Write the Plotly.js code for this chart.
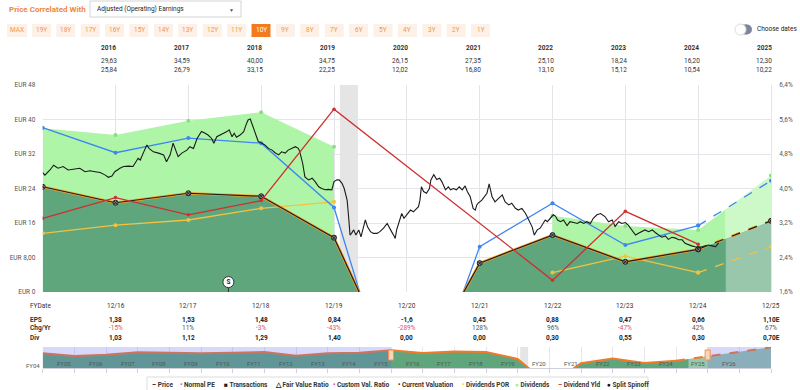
<!DOCTYPE html>
<html><head><meta charset="utf-8">
<script src="https://cdn.plot.ly/plotly-3.0.1.min.js"></script>
<style>html,body{margin:0;padding:0;background:#fff;} #chart{width:800px;height:390px;}</style>
</head><body><div id="chart"></div>
<script>
// ---------------- DATA ----------------
// fiscal year ends 12/15 .. 12/25 expressed as decimal calendar years
const fyEnd = [2016,2017,2018,2019,2020,2021,2022,2023,2024,2025,2026];
const fyLabels = ['12/16','12/17','12/18','12/19','12/20','12/21','12/22','12/23','12/24','12/25'];
const epsText = ['1,38','1,53','1,48','0,84','-1,6','0,45','0,88','0,47','0,66','1,10E'];
const chgText = ['-15%','11%','-3%','-43%','-289%','128%','96%','-47%','42%','67%'];
const divText = ['1,03','1,12','1,29','1,40','0,00','0,00','0,30','0,55','0,30','0,70E'];
const hdrYears = ['2016','2017','2018','2019','2020','2021','2022','2023','2024','2025'];
const hdrHigh = ['29,63','34,59','40,00','34,75','26,15','27,35','25,10','18,24','16,20','12,30'];
const hdrLow  = ['25,84','26,79','33,15','22,25','12,02','16,80','13,10','15,12','10,54','10,22'];

const earningsVal = [24.4,20.7,22.9,22.2,12.6,-24.0,6.7,13.2,7.0,9.9,16.5];
const normalPE    = [38.1,32.3,35.7,34.5,19.6,-36.0,10.5,20.6,10.9,15.4,25.8];
const divTopA     = [38.0,36.4,39.7,41.7,33.7];          // 12/15..12/19
const divTopB     = [17.7,15.3,14.4,27.0];               // 12/22..12/25
const divPOR      = [13.6,15.5,16.7,19.4,20.9,null,null,4.5,8.3,4.5,10.5];
const divYield    = [3.31,3.79,3.39,3.72,5.84,null,null,1.87,3.47,2.71,null];
const recession   = [2020.08,2020.33];
const splitDates  = [2018.55];
const todayX      = 2025.37;

const priceX = [
2016.00,2016.03,2016.10,2016.15,2016.21,2016.28,2016.35,2016.42,2016.51,2016.58,2016.65,2016.72,2016.79,2016.86,2016.90,2016.95,2016.99,
2017.06,2017.11,2017.18,2017.24,2017.31,2017.34,2017.38,2017.43,2017.46,2017.52,2017.59,2017.66,2017.70,2017.75,2017.79,2017.82,2017.86,2017.91,2017.98,
2018.02,2018.07,2018.12,2018.18,2018.23,2018.27,2018.32,2018.35,2018.39,2018.44,2018.48,2018.53,2018.56,2018.60,2018.63,2018.66,2018.71,2018.76,2018.79,2018.82,2018.85,2018.87,2018.92,2018.96,
2019.01,2019.05,2019.10,2019.15,2019.19,2019.24,2019.28,2019.33,2019.37,2019.42,2019.47,2019.51,2019.53,2019.57,2019.60,2019.65,2019.70,2019.74,2019.79,2019.83,2019.88,2019.92,2019.97,
2020.00,2020.04,2020.07,2020.11,2020.14,2020.18,2020.20,2020.22,2020.24,2020.27,2020.30,2020.34,2020.37,2020.40,2020.43,2020.46,2020.50,2020.54,2020.59,2020.63,2020.68,2020.73,2020.76,2020.79,2020.83,2020.84,2020.86,2020.91,2020.93,2020.96,
2021.00,2021.05,2021.09,2021.13,2021.16,2021.18,2021.20,2021.23,2021.27,2021.31,2021.33,2021.37,2021.41,2021.45,2021.48,2021.53,2021.57,2021.60,2021.64,2021.68,2021.72,2021.76,2021.80,2021.83,2021.87,2021.91,2021.94,2021.96,2021.98,
2022.03,2022.07,2022.10,2022.13,2022.17,2022.21,2022.26,2022.31,2022.35,2022.40,2022.44,2022.49,2022.53,2022.58,2022.63,2022.67,2022.72,2022.75,2022.79,2022.83,2022.87,2022.90,2022.93,2022.97,
2023.01,2023.04,2023.07,2023.11,2023.15,2023.20,2023.24,2023.29,2023.34,2023.38,2023.43,2023.47,2023.52,2023.56,2023.61,2023.66,2023.69,2023.72,2023.77,2023.82,2023.86,2023.91,2023.95,
2024.00,2024.04,2024.09,2024.14,2024.18,2024.23,2024.27,2024.32,2024.37,2024.41,2024.46,2024.50,2024.55,2024.59,2024.64,2024.69,2024.73,2024.78,2024.82,2024.87,2024.91,2024.96,
2025.01,2025.05,2025.10,2025.14,2025.19,2025.24,2025.28];
const priceY = [
27.7,27.1,28.3,29.4,28.7,29.1,28.3,28.4,28.7,27.9,28.1,27.9,27.7,27.1,26.6,26.9,27.9,
28.7,29.1,29.2,29.1,31.0,30.6,32.2,34.1,33.3,32.5,32.2,31.8,30.2,31.8,34.5,33.3,31.4,32.2,32.9,
33.7,33.3,35.6,37.2,36.8,36.4,35.6,34.5,36.0,36.4,36.8,37.2,37.6,36.0,36.8,35.9,36.4,37.2,38.7,39.9,40.1,39.1,36.8,34.9,
34.5,34.1,33.3,32.9,32.3,31.8,32.5,32.2,32.9,33.3,33.7,33.3,32.5,29.8,26.7,26.0,26.4,25.6,24.4,24.0,23.7,23.8,23.7,
25.6,26.0,26.0,25.2,24.0,21.3,17.5,13.2,13.6,14.4,13.2,14.4,12.8,15.1,16.7,15.1,14.0,13.6,13.6,14.0,14.8,15.9,15.1,14.0,12.8,12.4,14.4,17.5,18.2,17.1,
17.9,19.0,18.6,19.4,19.8,21.3,24.4,23.3,22.9,24.0,26.0,27.2,26.1,26.4,25.6,23.7,24.4,23.7,24.0,23.7,24.4,23.7,24.6,23.3,22.1,19.4,19.0,20.2,20.6,
21.3,22.1,22.9,25.1,22.1,20.9,21.7,22.5,20.9,20.2,20.6,19.4,19.0,19.4,18.2,16.7,15.1,13.2,14.4,14.8,15.9,16.7,16.3,17.1,
17.9,17.6,16.7,16.3,16.7,15.4,16.3,16.1,15.9,16.3,15.9,16.3,15.9,17.1,17.9,18.2,17.9,17.5,16.3,16.7,15.2,16.3,15.9,
16.1,15.5,14.4,13.2,13.6,14.0,14.4,14.0,14.4,13.8,13.2,12.7,13.0,12.2,12.7,12.5,12.1,12.1,11.3,10.9,10.7,10.5,
10.4,10.5,10.7,10.9,10.7,10.5,11.4];

// navigator (long history, same earnings series)
const navHistX = [2005,2006,2007,2008,2009,2010,2011,2012,2013,2014,2015];
const navHistY = [20.3,16.6,18.4,21.7,21.1,20.3,21.1,22.1,17.0,20.3,21.1];
const navProjX = [2027,2028];
const navProjY = [22.3,28.6];
const navLabels = ['FY04','FY05','FY06','FY07','FY08','FY09','FY10','FY11','FY12','FY13','FY14','FY15','FY16','FY17','FY18','FY19','FY20','FY21','FY22','FY23','FY24','FY25','FY26'];

const rangeButtons = ['MAX','19Y','18Y','17Y','16Y','15Y','14Y','13Y','12Y','11Y','10Y','9Y','8Y','7Y','6Y','5Y','4Y','3Y','2Y','1Y'];
const activeRange = '10Y';

const legendItems = [
  {t:'Price', s:'–', c:'#222'},
  {t:'Normal PE', s:'•', c:'#3f86f2'},
  {t:'Transactions', s:'■', c:'#222'},
  {t:'Fair Value Ratio', s:'△', c:'#222'},
  {t:'Custom Val. Ratio', s:'•', c:'#e21de2'},
  {t:'Current Valuation', s:'•', c:'#222'},
  {t:'Dividends POR', s:'•', c:'#f3c743'},
  {t:'Dividends', s:'●', c:'#a4f09c'},
  {t:'Dividend Yld', s:'–', c:'#d13434'},
  {t:'Split Spinoff', s:'●', c:'#111'}
];

// ---------------- STYLE / LAYOUT HELPERS ----------------
const W = 800, H = 390;
const PX = p => p / W, PY = p => 1 - p / H;
const DG = '#5fa67d', DGp = '#98c7ab', LG = '#aef5a7', LGp = '#cdf8c8';
const FONT = 'Roboto, "Open Sans", sans-serif';
const plotL = 42.7, plotR = 771;

function split(arr, i) { return [arr.slice(0, i + 1), arr.slice(i)]; }
const iLast = fyEnd.length - 2; // index of 12/24
const gFrac = (todayX - fyEnd[0]) / (fyEnd[fyEnd.length-1] - fyEnd[0]);
const gradMain = {type:'horizontal', start:fyEnd[0], stop:fyEnd[fyEnd.length-1],
  colorscale:[[0,DG],[gFrac,DG],[gFrac+0.002,DGp],[1,DGp]]};
const bStart = fyEnd[7], bStop = fyEnd[10];
const bFrac = (todayX - bStart) / (bStop - bStart);
const gradLG = {type:'horizontal', start:bStart, stop:bStop,
  colorscale:[[0,LG],[bFrac,LG],[bFrac+0.002,LGp],[1,LGp]]};

const cvMarker = {symbol:'circle-x', size:5, color:'#8a8a8a', line:{color:'#222', width:1}};
const traces = [];
// dark green earnings area
traces.push({x:fyEnd, y:earningsVal, mode:'lines', line:{width:0, color:DG}, fill:'tozeroy', fillgradient:gradMain});
// light green dividends area A
traces.push({x:fyEnd.slice(0,5), y:earningsVal.slice(0,5), mode:'lines', line:{width:0}});
traces.push({x:fyEnd.slice(0,5), y:divTopA, mode:'lines+markers', line:{width:0, color:LG}, marker:{size:4, color:'#86e27e'}, fill:'tonexty', fillcolor:LG});
// light green dividends area B
traces.push({x:fyEnd.slice(7), y:earningsVal.slice(7), mode:'lines', line:{width:0}});
traces.push({x:fyEnd.slice(7), y:divTopB, mode:'lines+markers', line:{width:0, color:LG}, marker:{size:4, color:'#86e27e'}, fill:'tonexty', fillgradient:gradLG, fillcolor:LG});

// dividends POR (yellow)
const [porS, porD] = split(divPOR, iLast), [fxS, fxD] = split(fyEnd, iLast);
traces.push({x:fxS, y:porS, mode:'lines+markers', line:{color:'#f2c240', width:1.3}, marker:{size:4, color:'#f2c240'}});
traces.push({x:fxD, y:porD, mode:'lines+markers', line:{color:'#f2c240', width:1.3, dash:'dash'}, marker:{size:4, color:'#f2c240'}});
// normal PE (blue)
const [npS, npD] = split(normalPE, iLast);
traces.push({x:fxS, y:npS, mode:'lines+markers', line:{color:'#3f86f2', width:1.3}, marker:{size:4, color:'#3f86f2'}});
traces.push({x:fxD, y:npD, mode:'lines+markers', line:{color:'#3f86f2', width:1.3, dash:'dash'}, marker:{size:4, color:'#3f86f2'}});
// dividend yield (red, right axis)
traces.push({x:fyEnd, y:divYield, yaxis:'y2', mode:'lines+markers', connectgaps:true, line:{color:'#cf2f2f', width:1.3}, marker:{size:3.5, color:'#cf2f2f'}});
// earnings justified (orange) + current valuation (black)
const [evS, evD] = split(earningsVal, iLast);
traces.push({x:fxS, y:evS, mode:'lines', line:{color:'#f5a02c', width:2.6}});
traces.push({x:fxD, y:evD, mode:'lines', line:{color:'#f5a02c', width:2.6, dash:'dash'}});
traces.push({x:fxS, y:evS, mode:'lines+markers', line:{color:'#1e1e1e', width:1.2}, marker:cvMarker});
traces.push({x:fxD, y:evD, mode:'lines+markers', line:{color:'#1e1e1e', width:1.2, dash:'dash'}, marker:cvMarker});
// price
traces.push({x:priceX, y:priceY, mode:'lines', line:{color:'#1a1a1a', width:1.1}});
// split / spinoff marker
traces.push({x:[splitDates[0], splitDates[0]], y:[0, 1.05], mode:'lines', line:{color:'#333', width:1}});
traces.push({x:splitDates, y:[2.3], mode:'markers+text', text:['S'], textposition:'middle center', textfont:{size:6.5, color:'#222', family:FONT, weight:'bold'}, marker:{size:11, color:'#fff', line:{color:'#333', width:1}}});

// navigator
const navX = navHistX.concat(fyEnd, navProjX);
const navY = navHistY.concat(earningsVal, navProjY);
const nI = navX.indexOf(2025);
const nFrac = (todayX - navX[0]) / (navX[navX.length-1] - navX[0]);
traces.push({x:navX, y:navY, xaxis:'x2', yaxis:'y3', mode:'lines', line:{width:0}, fill:'tozeroy',
  fillgradient:{type:'horizontal', start:navX[0], stop:navX[navX.length-1], colorscale:[[0,DG],[nFrac,DG],[nFrac+0.002,DGp],[1,DGp]]}});
traces.push({x:navX.slice(0,nI+1), y:navY.slice(0,nI+1), xaxis:'x2', yaxis:'y3', mode:'lines', line:{color:'#f07a2a', width:2}});
traces.push({x:navX.slice(nI), y:navY.slice(nI), xaxis:'x2', yaxis:'y3', mode:'lines', line:{color:'#f07a2a', width:2, dash:'dash'}});

traces.forEach(t => { t.showlegend = false; t.hoverinfo = 'skip'; });

// ---------------- ANNOTATIONS & SHAPES ----------------
const ann = [], shapes = [];
function txt(x, y, text, o) {
  ann.push(Object.assign({xref:'paper', yref:'paper', x:x, y:y, text:text, showarrow:false,
    xanchor:'left', yanchor:'middle', font:{family:FONT, size:6.5, color:'#333'}}, o || {}));
}
// header
txt(PX(7), PY(9.5), 'Price Correlated With', {font:{family:FONT, size:8, color:'#f0873a', weight:'bold'}});
shapes.push({type:'rect', xref:'paper', yref:'paper', x0:PX(90), x1:PX(241), y0:PY(17), y1:PY(1), line:{color:'#d4d4d4', width:1}, fillcolor:'#fff'});
txt(PX(95), PY(9), 'Adjusted (Operating) Earnings', {font:{family:FONT, size:6.5, color:'#222'}});
txt(PX(232), PY(9.5), '▼', {xanchor:'center', font:{family:FONT, size:5, color:'#555'}});
rangeButtons.forEach((b, i) => {
  const c = 17 + 24.4 * i, hw = (b === 'MAX') ? 10 : 9.5;
  const on = b === activeRange;
  shapes.push({type:'rect', xref:'paper', yref:'paper', x0:PX(c-hw), x1:PX(c+hw), y0:PY(37), y1:PY(24), line:{width:0}, fillcolor: on ? '#f47a1f' : '#fdf1e7'});
  txt(PX(c), PY(30.5), b, {xanchor:'center', font:{family:FONT, size:6.5, color: on ? '#fff' : '#f39548'}});
});
// toggle
shapes.push({type:'rect', xref:'paper', yref:'paper', x0:PX(741), x1:PX(747), y0:PY(34.5), y1:PY(24.5), line:{width:0}, fillcolor:'#7e859f'});
shapes.push({type:'circle', xref:'paper', yref:'paper', x0:PX(742), x1:PX(752), y0:PY(34.5), y1:PY(24.5), line:{width:0}, fillcolor:'#7e859f'});
shapes.push({type:'circle', xref:'paper', yref:'paper', x0:PX(735), x1:PX(746), y0:PY(35), y1:PY(24), line:{color:'#dcdcdc', width:1}, fillcolor:'#fff'});
txt(PX(755), PY(29.5), 'Choose dates', {font:{family:FONT, size:6.5, color:'#222'}});
// yearly high/low table
hdrYears.forEach((y, i) => {
  const xx = fyEnd[i] + 0.91;
  ann.push({xref:'x', yref:'paper', x:xx, y:PY(48), text:'<b>'+y+'</b>', showarrow:false, xanchor:'center', yanchor:'middle', font:{family:FONT, size:6.5, color:'#333'}});
  ann.push({xref:'x', yref:'paper', x:xx, y:PY(61), text:hdrHigh[i], showarrow:false, xanchor:'center', yanchor:'middle', font:{family:FONT, size:6.5, color:'#333'}});
  ann.push({xref:'x', yref:'paper', x:xx, y:PY(70), text:hdrLow[i], showarrow:false, xanchor:'center', yanchor:'middle', font:{family:FONT, size:6.5, color:'#333'}});
});
// FY table
txt(PX(28), PY(306), 'FYDate', {font:{family:FONT, size:6.5, color:'#333'}});
txt(PX(28), PY(319.5), '<b>EPS</b>');
txt(PX(28), PY(328), '<b>Chg/Yr</b>');
txt(PX(28), PY(338), '<b>Div</b>');
fyLabels.forEach((l, i) => {
  const xx = fyEnd[i+1];
  const a = {xref:'x', yref:'paper', x:xx, showarrow:false, xanchor:'center', yanchor:'middle'};
  ann.push(Object.assign({}, a, {y:PY(306), text:l, font:{family:FONT, size:6.5, color:'#333'}}));
  ann.push(Object.assign({}, a, {y:PY(319.5), text:'<b>'+epsText[i]+'</b>', font:{family:FONT, size:6.5, color:'#222'}}));
  const neg = chgText[i].charAt(0) === '-';
  ann.push(Object.assign({}, a, {y:PY(328), text:chgText[i], font:{family:FONT, size:6.5, color: neg ? '#e4506a' : '#555'}}));
  ann.push(Object.assign({}, a, {y:PY(338), text:'<b>'+divText[i]+'</b>', font:{family:FONT, size:6.5, color:'#222'}}));
});
// navigator labels
const navStep = (plotR - plotL) / (navX[navX.length-1] - navX[0]);
navLabels.forEach((l, k) => {
  txt(PX(plotL + navStep * k - 10), PY(k === 0 ? 365 : 363.5), l, {xanchor:'center', font:{family:FONT, size:6, color:'#555'}});
});
// legend
shapes.push({type:'rect', xref:'paper', yref:'paper', x0:PX(147), x1:PX(648), y0:PY(395), y1:PY(377), line:{color:'#dcdcdc', width:1}, fillcolor:'#fff'});
const legX = [150, 178, 222, 273, 331, 396, 460, 513, 556, 605];
legendItems.forEach((it, i) => {
  txt(PX(legX[i]), PY(384.5), '<span style="color:'+it.c+'">'+it.s+'</span> '+it.t, {font:{family:FONT, size:6.5, color:'#333', weight:'bold'}});
});

// shapes in data coords
shapes.push({type:'rect', xref:'x', yref:'y', x0:recession[0], x1:recession[1], y0:0, y1:48, line:{width:0}, fillcolor:'#e5e5e5', layer:'below'});
shapes.push({type:'rect', xref:'x2', yref:'y3', x0:recession[0], x1:recession[1], y0:0, y1:29, line:{width:0}, fillcolor:'#e5e5e5', layer:'below'});
shapes.push({type:'rect', xref:'x2', yref:'y3', x0:navX[0], x1:fyEnd[0], y0:0, y1:29, line:{width:0}, fillcolor:'rgba(105,105,235,0.26)', layer:'above'});
shapes.push({type:'rect', xref:'x2', yref:'y3', x0:fyEnd[fyEnd.length-1], x1:navX[navX.length-1], y0:0, y1:29, line:{width:0}, fillcolor:'rgba(105,105,235,0.26)', layer:'above'});
[fyEnd[0], fyEnd[fyEnd.length-1]].forEach(h => {
  shapes.push({type:'rect', xref:'x2', yref:'paper', x0:h-0.08, x1:h+0.08, y0:PY(360), y1:PY(350), line:{color:'#f09050', width:1}, fillcolor:'#fbd6b6', layer:'above'});
});

const layout = {
  width:W, height:H, margin:{l:0, r:0, t:0, b:0}, paper_bgcolor:'#fff', plot_bgcolor:'#fff',
  showlegend:false, font:{family:FONT, size:6.5, color:'#555'},
  xaxis:{domain:[PX(plotL), PX(plotR)], range:[fyEnd[0], fyEnd[fyEnd.length-1]], tickvals:fyEnd, showticklabels:false,
    showgrid:true, gridcolor:'#e3e5eb', gridwidth:1, zeroline:false, showline:false, ticks:'', anchor:'y', fixedrange:true},
  yaxis:{domain:[PY(292), PY(85)], range:[0,48], tickvals:[0,8,16,24,32,40,48],
    ticktext:['EUR 0','EUR 8,00','EUR 16','EUR 24','EUR 32','EUR 40','EUR 48'],
    showgrid:true, gridcolor:'#e3e5eb', zeroline:false, showline:false, ticks:'outside', ticklen:5, tickcolor:'rgba(0,0,0,0)',
    tickfont:{family:FONT, size:6.5, color:'#555'}, automargin:false, anchor:'x', fixedrange:true},
  yaxis2:{overlaying:'y', side:'right', anchor:'x', range:[1.6,6.4], tickvals:[1.6,2.4,3.2,4.0,4.8,5.6,6.4],
    ticktext:['1,6%','2,4%','3,2%','4,0%','4,8%','5,6%','6,4%'], showgrid:false, zeroline:false, showline:true, linecolor:'#e3e5eb',
    ticks:'outside', ticklen:6, tickcolor:'rgba(0,0,0,0)', tickfont:{family:FONT, size:6.5, color:'#555'}, automargin:false, fixedrange:true},
  xaxis2:{domain:[PX(plotL), PX(plotR)], anchor:'y3', range:[navX[0], navX[navX.length-1]], tickvals:navX, showticklabels:false,
    showgrid:true, gridcolor:'#e6e6ee', zeroline:false, showline:true, linecolor:'#cfd0d8', ticks:'outside', ticklen:4, tickcolor:'#cfd0d8', fixedrange:true},
  yaxis3:{domain:[PY(368), PY(347)], anchor:'x2', range:[0,29], showgrid:false, zeroline:false, showticklabels:false, ticks:'', fixedrange:true},
  annotations:ann, shapes:shapes
};

Plotly.newPlot('chart', traces, layout, {staticPlot:true, displayModeBar:false});
</script></body></html>
